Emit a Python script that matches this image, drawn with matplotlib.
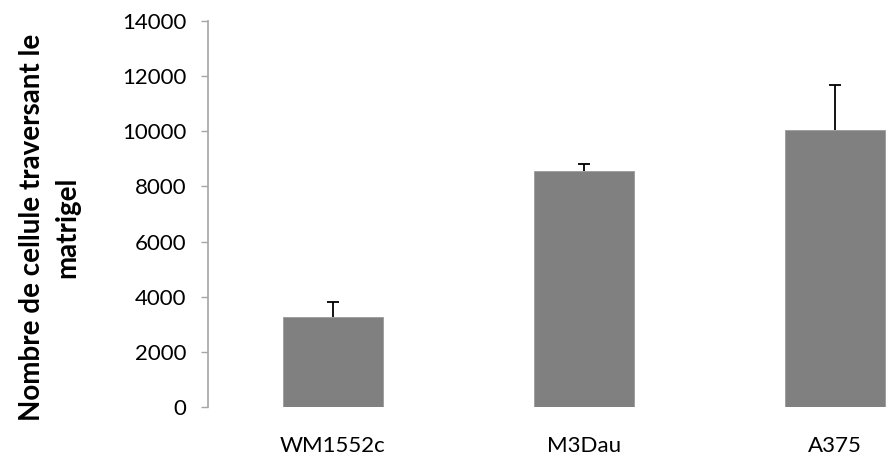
import matplotlib
matplotlib.use("Agg")
import matplotlib.pyplot as plt
import numpy as np

# Values
lignees  = ["WM1552c", "M3Dau", "A375"]
moyennes = [3250, 8570, 10030]
erreurs  = [570, 255, 1640]
y_ticks  = [0, 2000, 4000, 6000, 8000, 10000, 12000, 14000]

plt.rcParams["font.family"] = ["Lato", "DejaVu Sans"]

fig = plt.figure(figsize=(8.9, 4.66), dpi=100)
# axes runs past the right edge, like the cropped original
ax = fig.add_axes([207.5 / 890, 59 / 466, 753 / 890, 386 / 466])

x = np.arange(len(lignees)) + 0.5
ax.bar(x, moyennes, width=0.4, color="#808080", edgecolor="#9a9a9a", linewidth=0.6)

# upper error bars only (no cap at the bar top)
eb = ax.errorbar(x, moyennes, yerr=[np.zeros(len(erreurs)), erreurs], fmt="none",
                 ecolor="black", elinewidth=1.3, capsize=4, capthick=1.3)
eb.lines[1][0].set_visible(False)

ax.set_xlim(0, 3)
ax.set_ylim(0, 14000)
ax.set_yticks(y_ticks)
ax.set_xticks(x)
ax.set_xticklabels(lignees, fontsize=16)
ax.tick_params(axis="y", direction="out", length=5, width=1, color="#a6a6a6",
               labelsize=16, pad=10)
ax.tick_params(axis="x", length=0, pad=21)

for side in ["top", "right", "bottom"]:
    ax.spines[side].set_visible(False)
ax.spines["left"].set_color("#a6a6a6")
ax.spines["left"].set_linewidth(1.2)

ax.set_ylabel("Nombre de cellule traversant le\nmatrigel", fontsize=20,
              fontweight="bold", linespacing=1.45)
ax.yaxis.set_label_coords(-0.1693, 0.466)

fig.savefig("out.png", dpi=100)
